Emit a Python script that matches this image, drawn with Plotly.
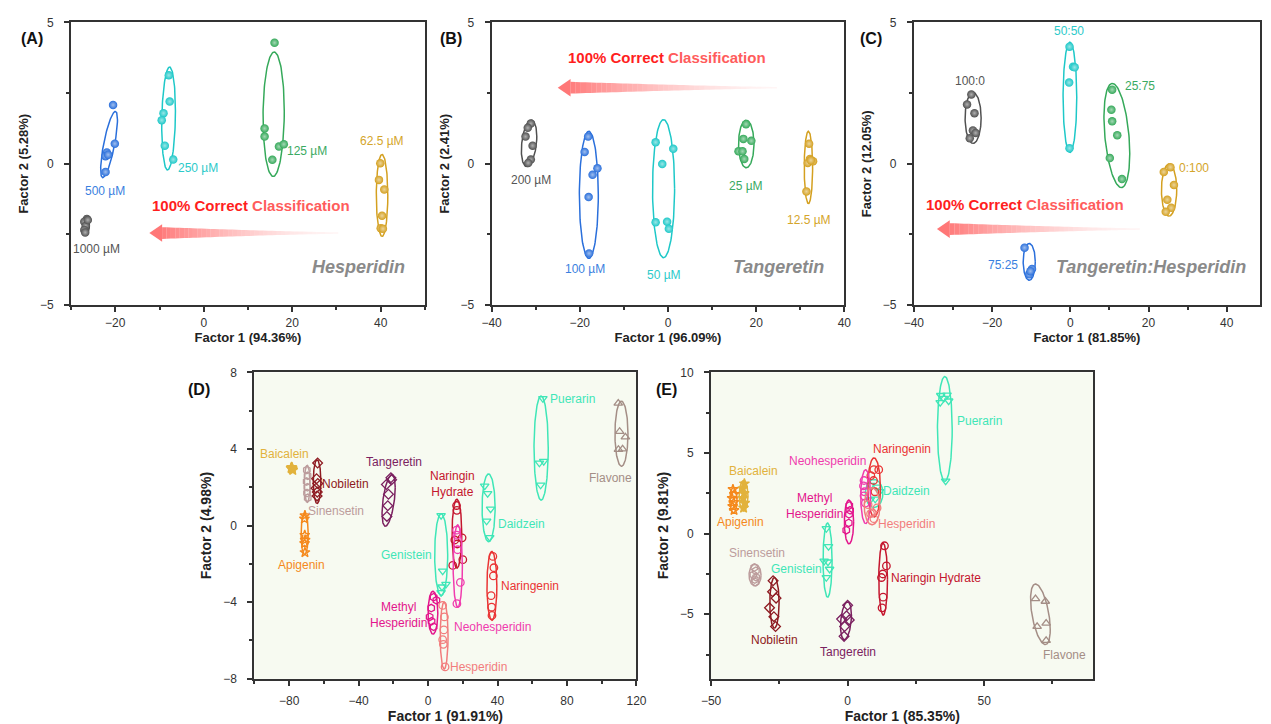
import numpy as np
import plotly.graph_objects as go

W, H = 1271, 724
FONT = "Arial, Liberation Sans, sans-serif"

# ---------------- DATA: panels A-C (sphere markers) ----------------
colors_top = ["#505050", "#2a6fdb", "#1ec8c8", "#35a95a", "#d4a020"]
label_colors_top = ["#555555", "#3a7fe0", "#2ccaca", "#3aaa62", "#d4a52a"]

A_names = ["1000 µM", "500 µM", "250 µM", "125 µM", "62.5 µM"]
A_x = [[-26.4, -27.0, -26.7, -27.0, -26.8, -26.2],
       [-20.5, -20.1, -21.9, -22.2, -21.6, -22.2],
       [-7.9, -7.7, -9.1, -9.5, -8.8, -6.9],
       [16.0, 13.75, 13.75, 17.0, 18.1, 15.5],
       [39.9, 39.6, 40.8, 40.3, 40.0, 40.5]]
A_y = [[-1.95, -2.05, -2.2, -2.34, -2.43, -1.99],
       [2.08, 0.71, 0.40, 0.27, 0.32, -0.29],
       [3.13, 2.20, 1.79, 1.54, 0.64, 0.15],
       [4.28, 1.25, 0.96, 0.61, 0.69, 0.14],
       [0.02, -0.57, -0.91, -1.84, -2.28, -2.30]]
A_ell = [(-26.6, -2.17, 0.75, 0.33, 0.0),
         (-21.4, 0.68, 1.9, 1.17, 0.75),
         (-7.95, 1.6, 1.55, 1.82, 0.15),
         (15.8, 1.75, 2.4, 2.2, 0.05),
         (40.3, -1.12, 1.3, 1.45, 0.0)]
A_lab_x = [-24.2, -22.4, -1.2, 23.3, 40.4]
A_lab_y = [-3.03, -0.95, -0.16, 0.46, 0.79]

B_names = ["200 µM", "100 µM", "50 µM", "25 µM", "12.5 µM"]
B_x = [[-31.1, -31.8, -32.3, -30.7, -31.1, -31.7],
       [-18.1, -18.9, -16.0, -17.1, -18.0, -17.9],
       [-2.8, 1.2, -1.3, -2.8, -0.2, 0.2],
       [17.7, 17.1, 18.9, 16.0, 16.9, 17.3],
       [32.0, 32.2, 31.7, 32.9, 32.4, 31.4]]
B_y = [[1.42, 1.27, 0.96, 0.64, 0.15, 0.03],
       [0.96, 0.42, -0.16, -0.39, -1.18, -3.17],
       [0.76, 0.53, -0.01, -2.07, -2.05, -2.30],
       [1.40, 0.88, 0.81, 0.44, 0.44, 0.17],
       [0.71, 0.17, 0.03, 0.09, 0.12, -0.98]]
B_ell = [(-31.5, 0.72, 1.75, 0.82, 0.3),
         (-17.95, -1.1, 2.15, 2.25, 0.0),
         (-1.0, -0.88, 2.5, 2.44, 0.0),
         (17.75, 0.7, 1.75, 0.84, 0.0),
         (31.85, -0.13, 0.95, 1.28, 0.0)]
B_lab_x = [-31.0, -18.8, -0.9, 17.7, 32.0]
B_lab_y = [-0.58, -3.72, -3.95, -0.77, -1.99]

C_names = ["100:0", "75:25", "50:50", "25:75", "0:100"]
C_x = [[-25.3, -26.4, -24.5, -24.9, -24.2, -25.7],
       [-11.7, -9.8, -10.5, -10.2],
       [-0.2, 0.7, 1.1, -0.3, -0.2],
       [10.7, 10.5, 10.7, 12.0, 10.1, 13.2],
       [25.6, 23.9, 26.5, 24.8, 25.8, 24.4]]
C_y = [[2.45, 2.10, 1.79, 1.18, 1.09, 0.90],
       [-2.97, -3.72, -3.91, -3.80],
       [4.14, 3.43, 3.41, 2.87, 0.55],
       [2.62, 1.91, 1.50, 1.01, 0.20, -0.54],
       [-0.12, -0.29, -0.75, -1.27, -1.56, -1.70]]
C_ell = [(-24.85, 1.62, 2.05, 0.9, 0.0),
         (-10.5, -3.47, 1.55, 0.65, 0.0),
         (-0.1, 2.35, 1.75, 1.95, 0.0),
         (11.9, 1.0, 3.3, 1.84, -0.35),
         (25.25, -0.93, 1.95, 0.92, 0.0)]
C_lab_x = [-25.7, -17.3, -0.4, 17.8, 31.5]
C_lab_y = [2.91, -3.58, 4.68, 2.74, -0.14]

# arrows ("100% Correct Classification")
arrow_tail_x = [30.4, 24.7, 17.8]
arrow_head_x = [-12.3, -25.0, -34.1]
arrow_y = [-2.45, 2.69, -2.31]
classif_x = [10.7, -0.3, -11.5]
classif_y = [-1.47, 3.77, -1.45]
compound_titles = ["Hesperidin", "Tangeretin", "Tangeretin:Hesperidin"]
compound_x = [46.0, 35.8, 45.5]
compound_y = [-3.66, -3.66, -3.64]

# ---------------- DATA: panels D-E (open markers) ----------------
cmp_names = ["Baicalein", "Apigenin", "Sinensetin", "Nobiletin", "Tangeretin",
             "Genistein", "Daidzein", "Puerarin", "Naringin Hydrate", "Naringenin",
             "Neohesperidin", "Methyl Hesperidin", "Hesperidin", "Flavone"]
cmp_colors = ["#e2b23c", "#f5891c", "#bc9c9c", "#8e1b22", "#7b2160",
              "#3fe6b7", "#3fe6b7", "#3fe6b7", "#c4162e", "#ea3434",
              "#f03cae", "#e3158c", "#f27d7d", "#a48e86"]
cmp_symbols = ["star", "star-open", "hexagon-open", "diamond-open", "diamond-open",
               "triangle-down-open", "triangle-down-open", "triangle-down-open", "circle-open",
               "circle-open", "circle-open", "hexagon-open", "circle-open", "triangle-up-open"]

D_x = [[-78.9, -78.2, -78.6, -77.9, -78.5, -78.3],
       [-70.9, -71.2, -71.0, -70.8, -71.1, -70.9],
       [-69.8, -69.4, -69.9, -69.5, -69.7, -69.3],
       [-63.6, -64.2, -63.5, -64.5, -63.8, -63.9],
       [-21.4, -24.0, -22.8, -23.2, -23.7, -21.0],
       [7.5, 8.4, 10.3, 7.5, 8.0],
       [32.6, 34.3, 36.0, 33.7, 35.5],
       [66.1, 64.1, 66.6, 64.8],
       [16.4, 16.6, 15.4, 19.6, 16.8, 20.0, 14.2],
       [37.3, 37.9, 37.6, 36.3, 36.6, 36.8],
       [16.4, 16.5, 17.0, 18.6, 16.6],
       [3.2, 4.8, 1.8, 0.9, 3.2, 2.0],
       [8.4, 9.4, 9.1, 8.4, 8.8, 9.8],
       [109.5, 110.3, 113.6, 109.6, 112.0]]
D_y = [[3.0, 2.95, 3.05, 2.9, 2.98, 3.02],
       [0.53, 0.36, -0.5, -0.75, -0.92, -1.40],
       [2.9, 2.6, 2.3, 2.0, 1.7, 1.45],
       [3.27, 2.45, 2.2, 1.95, 1.75, 1.55],
       [2.50, 2.15, 1.64, 1.04, 0.48, 2.4],
       [0.53, -2.37, -3.06, -3.49, -3.2],
       [2.07, 1.68, 0.87, 0.24, -0.62],
       [6.64, 3.27, 3.36, 2.12],
       [1.05, 0.8, -0.75, -0.64, -0.96, -1.78, -2.08],
       [-1.61, -2.20, -2.63, -3.66, -4.26, -4.69],
       [-0.24, -0.50, -1.26, -2.97, -4.08],
       [-3.74, -3.9, -4.31, -4.77, -5.28, -5.0],
       [-4.17, -4.77, -5.45, -5.96, -6.2, -7.38],
       [6.39, 4.92, 4.63, 3.98, 4.0]]
D_ell = [(-78.4, 2.97, 1.2, 0.15, 0.0), (-71.05, -0.43, 2.05, 1.08, 0.0),
         (-69.6, 2.18, 1.6, 0.97, 0.0), (-63.9, 2.3, 2.2, 1.14, 0.0),
         (-22.7, 1.32, 3.8, 1.35, 0.5), (7.55, -1.52, 3.75, 2.14, 0.0),
         (34.85, 0.93, 3.75, 1.77, 0.0), (65.1, 4.05, 4.1, 2.72, 0.0),
         (16.6, -0.42, 2.8, 1.80, 0.0), (36.75, -3.15, 2.85, 1.80, 0.0),
         (17.1, -2.11, 2.65, 2.15, 0.0), (2.8, -4.55, 2.8, 1.12, 0.0),
         (9.25, -5.75, 2.25, 1.75, 0.0), (111.35, 4.8, 3.75, 1.7, 0.0)]
D_lab = ["Baicalein", "Apigenin", "Sinensetin", "Nobiletin", "Tangeretin", "Genistein",
         "Daidzein", "Puerarin", "Naringin<br>Hydrate", "Naringenin", "Neohesperidin",
         "Methyl<br>Hesperidin", "Hesperidin", "Flavone"]
D_lab_x = [-82.6, -72.7, -52.9, -47.8, -19.9, -12.3, 53.8, 83.4, 14.1, 58.5, 37.3, -17.1, 29.2, 104.8]
D_lab_y = [3.73, -2.08, 0.75, 2.19, 3.32, -1.52, 0.10, 6.60, 2.19, -3.14, -5.31, -4.68, -7.38, 2.50]

E_x = [[-37.8, -38.4, -37.9, -38.3, -37.7, -38.1],
       [-42.0, -41.5, -42.3, -41.7, -42.1, -41.6],
       [-34.2, -33.6, -34.5, -33.5, -34.0, -33.8],
       [-27.3, -26.2, -28.6, -27.0, -26.4, -27.5],
       [0.0, -2.2, 0.6, -1.1, -0.4, -1.3],
       [-7.8, -7.0, -8.6, -7.2, -7.8, -6.6],
       [11.7, 10.1, 8.5, 8.3, 10.8],
       [34.1, 33.9, 36.4, 37.0, 35.9, 35.2],
       [13.5, 14.2, 12.4, 13.0, 12.6, 12.9],
       [9.6, 11.4, 8.5, 9.5, 10.0],
       [6.0, 5.8, 6.0, 6.5, 6.2],
       [0.6, 0.5, 0.4, -0.5, 0.9],
       [8.4, 9.6, 10.8, 7.5, 9.0],
       [68.8, 72.4, 69.4, 72.7, 72.7]]
E_y = [[3.1, 2.8, 2.5, 2.2, 1.9, 1.6],
       [2.75, 2.45, 2.2, 1.95, 1.7, 1.45],
       [-2.1, -2.3, -2.55, -2.7, -2.85, -3.0],
       [-2.92, -4.0, -4.6, -5.15, -5.76, -3.6],
       [-4.44, -5.30, -5.35, -5.76, -5.1, -6.37],
       [0.32, -0.79, -1.70, -1.75, -2.72, -2.2],
       [2.62, 2.15, 3.0, 2.1, 2.9],
       [8.58, 8.14, 8.6, 8.24, 3.27, 8.4],
       [-0.75, -2.0, -2.72, -3.94, -4.6, -2.5],
       [3.97, 3.97, 3.6, 3.3, 2.6],
       [3.3, 2.96, 2.35, 1.9, 2.6],
       [1.75, 1.2, 0.67, 0.22, 1.45],
       [1.24, 0.93, 1.6, 1.8, 1.3],
       [-4.04, -4.2, -5.76, -5.56, -6.63]]
E_ell = [(-38.1, 2.35, 1.6, 0.95, 0.0), (-41.8, 2.07, 1.3, 0.79, 0.0),
         (-33.9, -2.57, 2.2, 0.67, 0.0), (-26.8, -4.29, 1.7, 1.57, 0.0),
         (-0.6, -5.4, 2.0, 1.17, 0.3), (-7.35, -1.64, 1.65, 2.3, 0.0),
         (9.7, 2.5, 3.2, 0.87, 0.0), (35.6, 6.5, 2.7, 3.25, 0.0),
         (13.0, -2.82, 1.6, 2.23, 0.0), (9.7, 2.87, 2.3, 1.83, 0.0),
         (6.6, 2.3, 1.8, 1.67, 0.0), (0.5, 0.73, 1.7, 1.36, 0.0),
         (8.95, 1.7, 2.85, 1.15, 0.0), (70.6, -5.0, 3.6, 1.88, -0.5)]
E_lab = ["Baicalein", "Apigenin", "Sinensetin", "Nobiletin", "Tangeretin", "Genistein",
         "Daidzein", "Puerarin", "Naringin Hydrate", "Naringenin", "Neohesperidin",
         "Methyl<br>Hesperidin", "Hesperidin", "Flavone"]
E_lab_x = [-34.5, -39.2, -33.3, -26.6, 0.0, -18.8, 21.5, 48.2, 32.5, 19.9, -7.2, -12.2, 21.5, 79.6]
E_lab_y = [3.91, 0.73, -1.20, -6.57, -7.32, -2.17, 2.62, 6.96, -2.76, 5.25, 4.52, 1.69, 0.57, -7.53]

# ---------------- LAYOUT GEOMETRY ----------------
dom_x = [(62 / W, 421.6 / W), (489.3 / W, 847.7 / W), (918.3 / W, 1270 / W),
         (248.3 / W, 636.5 / W), (712.3 / W, 1100.7 / W)]
top_dom_y = (1 - 304 / H, 1 - 15.7 / H)
bot_dom_y = (1 - 685 / H, 1 - 372.7 / H)
dom_y = [top_dom_y, top_dom_y, top_dom_y, bot_dom_y, bot_dom_y]
x_ranges = [[-30, 50], [-40, 40], [-40, 48.5], [-100, 120], [-50, 90]]
y_ranges = [[-5, 5], [-5, 5], [-5, 5], [-8, 8], [-9, 10]]
x_dt = [(20, 10), (20, 10), (20, 10), (40, 20), (50, 25)]
y_dt = [(5, 2.5), (5, 2.5), (5, 2.5), (4, 2), (5, 2.5)]
x_titles = ["Factor 1 (94.36%)", "Factor 1 (96.09%)", "Factor 1 (81.85%)",
            "Factor 1 (91.91%)", "Factor 1 (85.35%)"]
y_titles = ["Factor 2 (5.28%)", "Factor 2 (2.41%)", "Factor 2 (12.05%)",
            "Factor 2 (4.98%)", "Factor 2 (9.81%)"]
panel_tags = ["(A)", "(B)", "(C)", "(D)", "(E)"]
tag_px = [(22.7, 31.7), (447.7, 31.7), (874.3, 31.7), (191.7, 390), (666.7, 390)]

fig = go.Figure()


def ax_ids(i):
    s = "" if i == 0 else str(i + 1)
    return "x" + s, "y" + s


def ellipse(cx, cy, rx, ry, rho, n=120):
    t = np.linspace(0, 2 * np.pi, n)
    d = np.arccos(np.clip(rho, -0.999, 0.999))
    return cx + rx * np.cos(t), cy + ry * np.cos(t - d)


def lighten(hexc, f):
    h = hexc.lstrip("#")
    r, g, b = int(h[0:2], 16), int(h[2:4], 16), int(h[4:6], 16)
    r = int(r + (255 - r) * f); g = int(g + (255 - g) * f); b = int(b + (255 - b) * f)
    return f"rgb({r},{g},{b})"


annotations = []
shapes = []

# ---- top panels ----
top_sets = [(A_names, A_x, A_y, A_ell, A_lab_x, A_lab_y),
            (B_names, B_x, B_y, B_ell, B_lab_x, B_lab_y),
            (C_names, C_x, C_y, C_ell, C_lab_x, C_lab_y)]
for p, (names, xs, ys, ells, lx, ly) in enumerate(top_sets):
    xa, ya = ax_ids(p)
    for g in range(len(names)):
        col = colors_top[g]
        ex, ey = ellipse(*ells[g])
        fig.add_trace(go.Scatter(x=ex, y=ey, mode="lines", xaxis=xa, yaxis=ya,
                                 line=dict(color=col, width=1.5), hoverinfo="skip"))
        fig.add_trace(go.Scatter(x=xs[g], y=ys[g], mode="markers", xaxis=xa, yaxis=ya, name=names[g],
                                 marker=dict(size=8.5, color=col, line=dict(width=0),
                                             gradient=dict(type="radial", color=lighten(col, 0.55)))))
        annotations.append(dict(x=lx[g], y=ly[g], xref=xa, yref=ya, text=names[g], showarrow=False,
                                font=dict(family=FONT, size=12, color=label_colors_top[g])))
    # arrow with gradient
    x0d, x1d = dom_x[p]
    y0d, y1d = dom_y[p]
    pxu_x = (x1d - x0d) * W / (x_ranges[p][1] - x_ranges[p][0])
    pxu_y = (y1d - y0d) * H / (y_ranges[p][1] - y_ranges[p][0])
    tail, head, yc = arrow_tail_x[p], arrow_head_x[p], arrow_y[p]
    head_len = 13 / pxu_x
    base = head + head_len
    nseg = 40
    for k in range(nseg):
        f0 = k / nseg
        f1 = (k + 1) / nseg
        xa0 = tail + (base - tail) * f0
        xa1 = tail + (base - tail) * f1
        h0 = (0.8 + 5.2 * f0 ** 1.3) / pxu_y
        h1 = (0.8 + 5.2 * f1 ** 1.3) / pxu_y
        alpha = 0.06 + 0.74 * f1 ** 1.6
        shapes.append(dict(type="path", xref=xa, yref=ya,
                           path=f"M{xa0},{yc - h0} L{xa1},{yc - h1} L{xa1},{yc + h1} L{xa0},{yc + h0} Z",
                           fillcolor=f"rgba(255,95,95,{alpha:.3f})", line=dict(width=0)))
    hh = 9 / pxu_y
    shapes.append(dict(type="path", xref=xa, yref=ya,
                       path=f"M{head},{yc} L{base},{yc + hh} L{base},{yc - hh} Z",
                       fillcolor="rgba(255,95,95,0.85)", line=dict(width=0)))
    annotations.append(dict(x=classif_x[p], y=classif_y[p], xref=xa, yref=ya, showarrow=False,
                            text="<b><span style='color:#ff1e1e'>100% Correct </span>"
                                 "<span style='color:#ff5c5c'>Classification</span></b>",
                            font=dict(family=FONT, size=15, color="#ff1e1e")))
    annotations.append(dict(x=compound_x[p], y=compound_y[p], xref=xa, yref=ya, showarrow=False,
                            xanchor="right", text=f"<b><i>{compound_titles[p]}</i></b>",
                            font=dict(family=FONT, size=18, color="#8a8a8a")))

# ---- bottom panels ----
for p, (xs, ys, ells, labs, lx, ly) in zip([3, 4], [(D_x, D_y, D_ell, D_lab, D_lab_x, D_lab_y),
                                                    (E_x, E_y, E_ell, E_lab, E_lab_x, E_lab_y)]):
    xa, ya = ax_ids(p)
    for g in range(len(cmp_names)):
        col = cmp_colors[g]
        ex, ey = ellipse(*ells[g])
        fig.add_trace(go.Scatter(x=ex, y=ey, mode="lines", xaxis=xa, yaxis=ya,
                                 line=dict(color=col, width=1.5), hoverinfo="skip"))
        fig.add_trace(go.Scatter(x=xs[g], y=ys[g], mode="markers", xaxis=xa, yaxis=ya, name=cmp_names[g],
                                 marker=dict(size=7.5, symbol=cmp_symbols[g], color=col,
                                             line=dict(width=1.3, color=col))))
        annotations.append(dict(x=lx[g], y=ly[g], xref=xa, yref=ya, text=labs[g], showarrow=False,
                                font=dict(family=FONT, size=12, color=col)))

# panel tags
for t, (px, py) in zip(panel_tags, tag_px):
    annotations.append(dict(x=px / W, y=1 - py / H, xref="paper", yref="paper", text=f"<b>{t}</b>",
                            xanchor="center", yanchor="middle",
                            showarrow=False, font=dict(family=FONT, size=16, color="#111")))

layout_axes = {}
for p in range(5):
    xa, ya = ax_ids(p)
    xk = "xaxis" if p == 0 else f"xaxis{p + 1}"
    yk = "yaxis" if p == 0 else f"yaxis{p + 1}"
    common = dict(showline=True, linecolor="#333", linewidth=2, mirror=True, showgrid=False,
                  zeroline=False, ticks="outside", ticklen=5, tickwidth=1.5, tickcolor="#333",
                  tickfont=dict(family=FONT, size=12, color="#333"), tickmode="linear", tick0=0)
    layout_axes[xk] = dict(common, domain=list(dom_x[p]), range=x_ranges[p], dtick=x_dt[p][0],
                           anchor=ya, ticklabelstandoff=0 if p < 3 else 5,
                           minor=dict(dtick=x_dt[p][1], tick0=0, ticks="outside", ticklen=3,
                                      tickcolor="#333", showgrid=False),
                           title=dict(text=f"<b>{x_titles[p]}</b>", standoff=4 if p < 3 else 6,
                                      font=dict(family=FONT, size=13 if p < 3 else 14, color="#222")))
    layout_axes[yk] = dict(common, domain=list(dom_y[p]), range=y_ranges[p], dtick=y_dt[p][0],
                           anchor=xa, ticklabelstandoff=8,
                           minor=dict(dtick=y_dt[p][1], tick0=0, ticks="outside", ticklen=3,
                                      tickcolor="#333", showgrid=False),
                           title=dict(text=f"<b>{y_titles[p]}</b>", standoff=8,
                                      font=dict(family=FONT, size=13 if p < 3 else 14, color="#222")))

# plot background for D/E
for p in [3, 4]:
    xa, ya = ax_ids(p)
    shapes.insert(0, dict(type="rect", xref=f"{xa} domain", yref=f"{ya} domain", x0=0, x1=1, y0=0, y1=1,
                          fillcolor="#f7faf1", line=dict(width=0), layer="below"))

fig.update_layout(width=W, height=H, margin=dict(l=0, r=0, t=0, b=0), showlegend=False,
                  paper_bgcolor="white", plot_bgcolor="white", annotations=annotations, shapes=shapes,
                  font=dict(family=FONT), **layout_axes)

fig.write_html("out.html", config={"displayModeBar": False},
               post_script="document.body.style.margin='0px';document.body.style.overflow='hidden';")
